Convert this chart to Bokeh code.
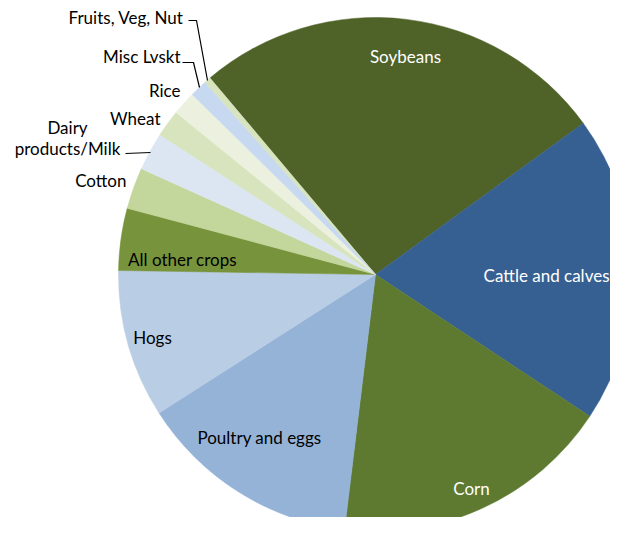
import math
from bokeh.plotting import figure
from bokeh.models import Range1d
from bokeh.core.properties import value
from bokeh.embed import file_html
from bokeh.resources import INLINE

# ---- data (share of value, %) ----
categories = ["Soybeans", "Cattle and calves", "Corn", "Poultry and eggs", "Hogs",
              "All other crops", "Cotton", "Dairy products/Milk", "Wheat", "Rice",
              "Misc Lvskt", "Fruits, Veg, Nut"]
shares = [26.1, 19.3, 17.6, 14.0, 9.3, 3.9, 2.6, 2.4, 1.7, 1.5, 1.1, 0.4]
colors = ["#4F6228", "#376092", "#5D7A30", "#95B3D7", "#B9CDE5", "#77933C",
          "#C3D69B", "#DCE6F2", "#D7E4BD", "#EBF1DE", "#C6D9F1", "#D7E4BD"]

# ---- layout ----
W, H = 610, 517
OX, OY = 0, 0  # page offset of the plot frame
def Y(sy):
    return (H + OY) - sy

cx, cy, r = 375, Y(274), 257
start_deg = 130.1

p = figure(width=W, height=H, output_backend="svg", toolbar_location=None,
           x_range=Range1d(OX, OX + W), y_range=Range1d(0, H),
           min_border=0, outline_line_color=None, background_fill_color="white")
p.axis.visible = False
p.grid.visible = False

total = sum(shares)
a = start_deg
for s, c in zip(shares, colors):
    span = s / total * 360.0
    p.wedge(x=cx, y=cy, radius=r, start_angle=math.radians(a - span),
            end_angle=math.radians(a), color=c, line_color=c, line_width=0.5)
    a -= span

FONT = value("Lato")
FS = "17px"

def label(txt, x, sy, align="center", color="black"):
    p.text(x=[x], y=[Y(sy)], text=[txt], text_font=FONT, text_font_size=FS,
           text_align=align, text_baseline="middle", text_color=color)

# inside labels
label("Soybeans", 405, 56, color="white")
label("Cattle and calves", 609, 275, align="right", color="white")
label("Corn", 471, 488, color="white")
label("Poultry and eggs", 259, 437)
label("Hogs", 152, 337)
label("All other crops", 182, 259)
# outside labels
label("Cotton", 126, 180, align="right")
label("Dairy", 67, 127)
label("products/Milk", 67, 148)
label("Wheat", 160, 118, align="right")
label("Rice", 180, 90, align="right")
label("Misc Lvskt", 180, 56, align="right")
label("Fruits, Veg, Nut", 183, 17, align="right")

# leader lines
p.line(x=[188, 196, 207], y=[Y(20), Y(20), Y(80)], line_color="black", line_width=1.2)
p.line(x=[182, 193, 199], y=[Y(62), Y(62), Y(87)], line_color="black", line_width=1.2)
p.line(x=[125, 150], y=[Y(153), Y(152)], line_color="black", line_width=1.2)

open("out.html", "w").write(file_html(p, INLINE))
